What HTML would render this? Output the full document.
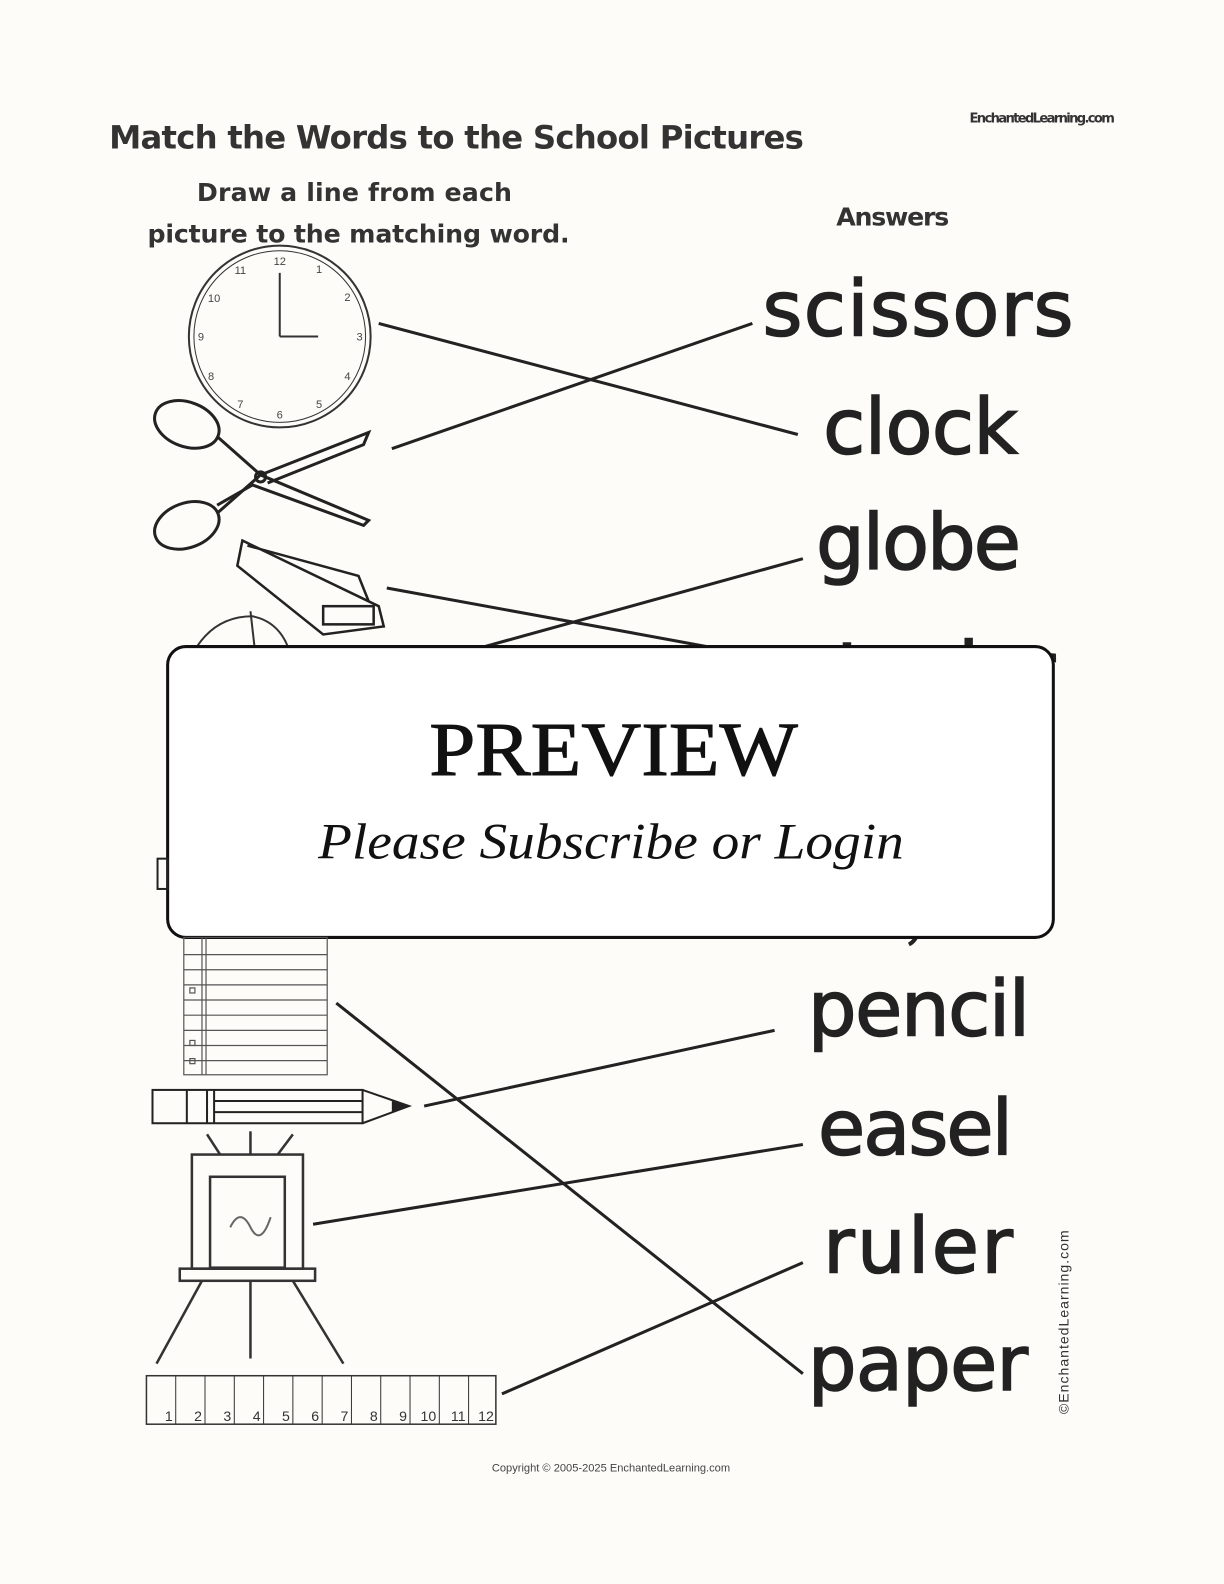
<!DOCTYPE html>
<html><head><meta charset="utf-8"><style>
html,body{margin:0;padding:0;background:#fdfcf8;}
svg{display:block}
</style></head><body>
<svg width="1224" height="1584" viewBox="0 0 1212 1568" xmlns="http://www.w3.org/2000/svg">
<rect width="1212" height="1568" fill="#fdfcf8"/>
<g font-family="'Comic Sans MS','DejaVu Sans','Liberation Sans',sans-serif" font-weight="bold" fill="#333">
<text x="108" y="147" font-size="32" textLength="688">Match the Words to the School Pictures</text>
<text x="960" y="121" font-size="13" textLength="144">EnchantedLearning.com</text>
<text x="195" y="199" font-size="25" textLength="312">Draw a line from each</text>
<text x="146" y="240" font-size="25" textLength="418">picture to the matching word.</text>
<text x="828" y="223" font-size="25" textLength="112">Answers</text>
</g>
<g font-family="'DejaVu Sans','Liberation Sans',sans-serif" fill="#222" font-size="76" stroke="#222" stroke-width="1.5">
<text x="755" y="332" textLength="308">scissors</text>
<text x="815" y="449" textLength="193">clock</text>
<text x="808" y="563" textLength="203">globe</text>
<text x="790" y="690" textLength="255">stapler</text>
<text x="800" y="1025" textLength="220">pencil</text>
<text x="810" y="1143" textLength="193">easel</text>
<text x="815" y="1260" textLength="188">ruler</text>
<text x="800" y="1376" textLength="218">paper</text>
</g>
<text x="1058" y="1400" transform="rotate(-90 1058 1400)" font-family="'Liberation Sans',sans-serif" font-size="14" fill="#333" textLength="182">©EnchantedLearning.com</text>
<text x="605" y="1457" text-anchor="middle" font-family="'Liberation Sans',sans-serif" font-size="11" fill="#444">Copyright © 2005-2025 EnchantedLearning.com</text>
<g stroke="#222" stroke-width="3" fill="none">
<line x1="375" y1="320" x2="790" y2="430"/>
<line x1="388" y1="444" x2="745" y2="320"/>
<line x1="383" y1="582" x2="700" y2="640"/>
<line x1="480" y1="640" x2="795" y2="553"/>
<line x1="333" y1="993" x2="795" y2="1360"/>
<line x1="420" y1="1095" x2="767" y2="1020"/>
<line x1="310" y1="1212" x2="795" y2="1133"/>
<line x1="497" y1="1380" x2="795" y2="1250"/>
<path d="M912 910 Q910 930 900 935" stroke-width="4"/>
</g>
<g stroke="#333" fill="none">
<circle cx="277" cy="333" r="90" stroke-width="2"/>
<circle cx="277" cy="333" r="85" stroke-width="1"/>
<line x1="277" y1="333" x2="277" y2="270" stroke-width="2"/>
<line x1="277" y1="333" x2="315" y2="333" stroke-width="2"/>
</g>
<g font-family="'Liberation Sans',sans-serif" font-size="11" fill="#444" text-anchor="middle">
<text x="277" y="262">12</text><text x="316" y="270">1</text><text x="344" y="298">2</text><text x="356" y="337">3</text><text x="344" y="376">4</text><text x="316" y="404">5</text><text x="277" y="414">6</text><text x="238" y="404">7</text><text x="209" y="376">8</text><text x="199" y="337">9</text><text x="212" y="299">10</text><text x="238" y="271">11</text>
</g>
<g stroke="#222" stroke-width="3" fill="none">
<ellipse cx="185" cy="420" rx="33" ry="22" transform="rotate(20 185 420)"/>
<ellipse cx="185" cy="520" rx="33" ry="22" transform="rotate(-20 185 520)"/>
<path d="M215 432 L258 470 L365 515 L360 520 L250 480 L215 500"/>
<path d="M215 508 L258 470 L365 428 L360 440 L265 478"/>
<circle cx="258" cy="472" r="5"/>
</g>
<g stroke="#222" stroke-width="2.5" fill="none">
<path d="M240 535 L375 600 L380 620 L320 628 L235 560 Z"/>
<path d="M245 540 L355 570 L365 595"/>
<rect x="320" y="600" width="50" height="18"/>
</g>
<path d="M195 640 Q215 610 250 610 Q275 615 285 640" stroke="#333" stroke-width="2" fill="none"/>
<line x1="248" y1="605" x2="252" y2="640" stroke="#333" stroke-width="2"/>
<rect x="166" y="640" width="877" height="288" rx="18" fill="#fff" stroke="#111" stroke-width="3"/>
<text x="425" y="767" font-family="'Liberation Serif',serif" font-size="76" fill="#111" stroke="#111" stroke-width="1" textLength="365" lengthAdjust="spacingAndGlyphs">PREVIEW</text>
<text x="315" y="850" font-family="'Liberation Serif',serif" font-style="italic" font-size="50" fill="#111" textLength="580" lengthAdjust="spacingAndGlyphs">Please Subscribe or Login</text>
<rect x="156" y="850" width="10" height="30" fill="none" stroke="#222" stroke-width="2"/>
<g stroke="#555" stroke-width="1.2" fill="none">
<rect x="182" y="928" width="142" height="136"/>
<line x1="200" y1="928" x2="200" y2="1064"/><line x1="204" y1="928" x2="204" y2="1064"/>
<line x1="182" y1="945" x2="324" y2="945"/><line x1="182" y1="960" x2="324" y2="960"/>
<line x1="182" y1="975" x2="324" y2="975"/><line x1="182" y1="990" x2="324" y2="990"/>
<line x1="182" y1="1005" x2="324" y2="1005"/><line x1="182" y1="1020" x2="324" y2="1020"/>
<line x1="182" y1="1035" x2="324" y2="1035"/><line x1="182" y1="1050" x2="324" y2="1050"/>
<rect x="188" y="978" width="5" height="5"/><rect x="188" y="1030" width="5" height="5"/><rect x="188" y="1048" width="5" height="5"/>
</g>
<g stroke="#222" stroke-width="2" fill="none">
<rect x="151" y="1079" width="208" height="33"/>
<line x1="185" y1="1079" x2="185" y2="1112"/><line x1="205" y1="1079" x2="205" y2="1112"/><line x1="212" y1="1079" x2="212" y2="1112"/>
<line x1="212" y1="1090" x2="359" y2="1090"/><line x1="212" y1="1101" x2="359" y2="1101"/>
<path d="M359 1079 L405 1095 L359 1112"/>
</g>
<path d="M388 1090 L405 1095 L388 1101 Z" fill="#222"/>
<g stroke="#333" stroke-width="2.5" fill="none">
<rect x="190" y="1143" width="110" height="113"/>
<rect x="208" y="1165" width="74" height="90"/>
<rect x="178" y="1256" width="134" height="12"/>
<line x1="205" y1="1123" x2="218" y2="1143"/><line x1="248" y1="1120" x2="248" y2="1143"/><line x1="290" y1="1123" x2="275" y2="1143"/>
<line x1="200" y1="1268" x2="155" y2="1350"/><line x1="248" y1="1268" x2="248" y2="1345"/><line x1="290" y1="1268" x2="340" y2="1350"/>
</g>
<path d="M228 1215 q10 -20 20 0 q10 20 20 -10" stroke="#666" stroke-width="2" fill="none"/>
<rect x="145" y="1362" width="346" height="48" stroke="#333" stroke-width="1.5" fill="none"/>
<g font-family="'Liberation Sans',sans-serif" font-size="14" fill="#333" text-anchor="end">
<g stroke="#333" stroke-width="1">
<line x1="174" y1="1362" x2="174" y2="1410"/><line x1="203" y1="1362" x2="203" y2="1410"/><line x1="232" y1="1362" x2="232" y2="1410"/><line x1="261" y1="1362" x2="261" y2="1410"/><line x1="290" y1="1362" x2="290" y2="1410"/><line x1="319" y1="1362" x2="319" y2="1410"/><line x1="348" y1="1362" x2="348" y2="1410"/><line x1="377" y1="1362" x2="377" y2="1410"/><line x1="406" y1="1362" x2="406" y2="1410"/><line x1="435" y1="1362" x2="435" y2="1410"/><line x1="464" y1="1362" x2="464" y2="1410"/>
</g>
<text x="171" y="1407">1</text><text x="200" y="1407">2</text><text x="229" y="1407">3</text><text x="258" y="1407">4</text><text x="287" y="1407">5</text><text x="316" y="1407">6</text><text x="345" y="1407">7</text><text x="374" y="1407">8</text><text x="403" y="1407">9</text><text x="432" y="1407">10</text><text x="461" y="1407">11</text><text x="489" y="1407">12</text>
</g>
</svg>
</body></html>
